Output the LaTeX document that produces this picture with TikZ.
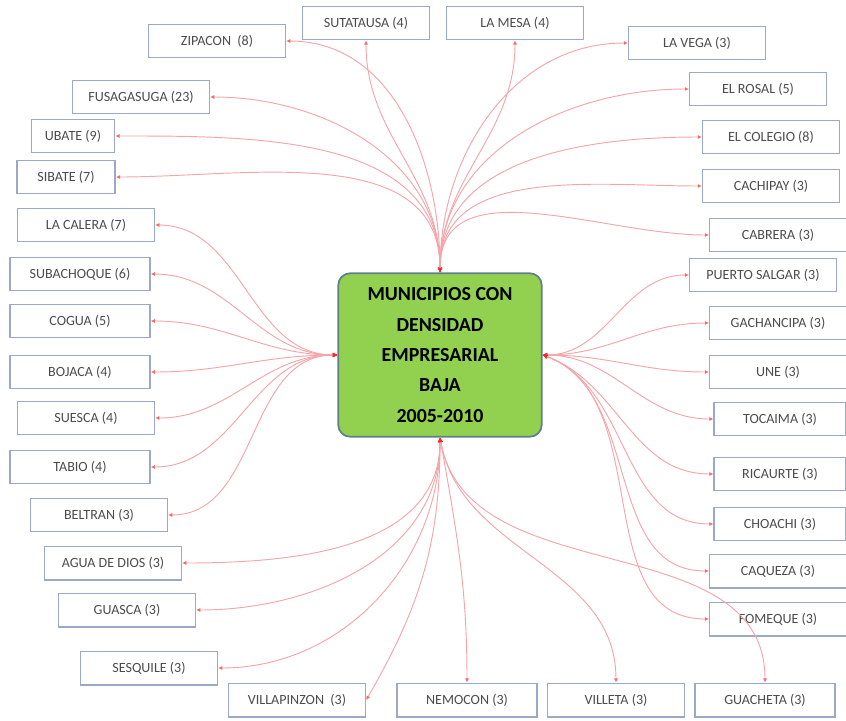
\documentclass[tikz,border=0pt]{standalone}
\usepackage{fontspec}
\setmainfont{Carlito}
\usetikzlibrary{arrows.meta}

\definecolor{hubgreen}{RGB}{146,208,80}
\definecolor{hubline}{RGB}{96,128,140}
\definecolor{boxline}{RGB}{155,168,198}
\definecolor{linkred}{RGB}{244,165,170}

\begin{document}
\begin{tikzpicture}[
        x=0.03cm, y=-0.03cm,
        hub/.style={draw=hubline, line width=1.5pt, fill=hubgreen, rounded corners=0.35cm,
            minimum width=6.1cm, minimum height=4.9cm, align=center,
            font=\fontsize{17}{26}\selectfont\bfseries},
        muni/.style={draw=boxline, line width=1.4pt, fill=white, minimum width=4.1cm,
            minimum height=1cm, inner sep=0pt, font=\fontsize{12}{14}\selectfont, text=black!70},
        link/.style={linkred, line width=0.8pt, {Latex[length=4pt,width=4pt,red!85]}-{Latex[length=3.5pt,width=3.5pt,red!60]}}
    ]

        \useasboundingbox (0,0) rectangle (846,720);

        \node[hub] (hub) at (440,355) {MUNICIPIOS CON\\DENSIDAD\\EMPRESARIAL\\BAJA\\2005-2010};

        % arriba
        \node[muni] (zipacon) at (217,41) {ZIPACON \ (8)};
        \node[muni, minimum width=3.8cm] (sutatausa) at (366,23) {SUTATAUSA (4)};
        \node[muni] (lamesa) at (515,23) {LA MESA (4)};
        \node[muni] (lavega) at (697,43) {LA VEGA (3)};
        \node[muni] (elrosal) at (758,89) {EL ROSAL (5)};
        \node[muni] (elcolegio) at (771,137) {EL COLEGIO (8)};
        \node[muni] (cachipay) at (771,186) {CACHIPAY (3)};
        \node[muni] (cabrera) at (778,235) {CABRERA (3)};
        \node[muni] (fusagasuga) at (141,97) {FUSAGASUGA (23)};
        \node[muni, minimum width=2.5cm] (ubate) at (73,136) {UBATE (9)};
        \node[muni, minimum width=2.95cm] (sibate) at (66,177) {SIBATE (7)};

        % derecha
        \node[muni, minimum width=4.4cm] (puertosalgar) at (763,275) {PUERTO SALGAR (3)};
        \node[muni] (gachancipa) at (778,323) {GACHANCIPA (3)};
        \node[muni] (une) at (778,372) {UNE (3)};
        \node[muni, minimum width=3.95cm] (tocaima) at (780,419) {TOCAIMA (3)};
        \node[muni, minimum width=3.95cm] (ricaurte) at (780,474) {RICAURTE (3)};
        \node[muni, minimum width=3.95cm] (choachi) at (780,524) {CHOACHI (3)};
        \node[muni] (caqueza) at (778,571) {CAQUEZA (3)};
        \node[muni] (fomeque) at (778,619) {FOMEQUE (3)};

        % abajo
        \node[muni, minimum width=4.2cm] (guacheta) at (765,700) {GUACHETA (3)};
        \node[muni] (villeta) at (616,700) {VILLETA (3)};
        \node[muni, minimum width=4.2cm] (nemocon) at (467,700) {NEMOCON (3)};
        \node[muni] (villapinzon) at (297,700) {VILLAPINZON \ (3)};

        % izquierda
        \node[muni] (lacalera) at (86,225) {LA CALERA (7)};
        \node[muni, minimum width=4.2cm] (subachoque) at (80,274) {SUBACHOQUE (6)};
        \node[muni, minimum width=4.2cm] (cogua) at (80,321) {COGUA (5)};
        \node[muni, minimum width=4.2cm] (bojaca) at (80,372) {BOJACA (4)};
        \node[muni] (suesca) at (86,418) {SUESCA (4)};
        \node[muni, minimum width=4.2cm] (tabio) at (80,467) {TABIO (4)};
        \node[muni] (beltran) at (99,515) {BELTRAN (3)};
        \node[muni] (aguadedios) at (113,563) {AGUA DE DIOS (3)};
        \node[muni] (guasca) at (127,610) {GUASCA (3)};
        \node[muni] (sesquile) at (149,668) {SESQUILE (3)};

        % conectores
        \foreach \m in {zipacon, fusagasuga, ubate, sibate}
            \draw[link] (hub.north) to[out=90, in=0] (\m.east);
        \foreach \m in {sutatausa, lamesa}
            \draw[link] (hub.north) to[out=90, in=-90] (\m.south);
        \foreach \m in {lavega, elrosal, elcolegio, cachipay, cabrera}
            \draw[link] (hub.north) to[out=90, in=180] (\m.west);

        \foreach \m in {lacalera, subachoque, cogua, bojaca, suesca, tabio, beltran}
            \draw[link] (hub.west) to[out=180, in=0] (\m.east);

        \foreach \m in {puertosalgar, gachancipa, une, tocaima}
            \draw[link] (hub.east) to[out=0, in=180] (\m.west);
        \foreach \m in {ricaurte, choachi, caqueza, fomeque}
            \draw[link] (hub.east) to[out=-20, in=180] (\m.west);

        \foreach \m in {aguadedios, guasca, sesquile}
            \draw[link] (hub.south) to[out=-90, in=0] (\m.east);
        \draw[link] (hub.south) to[out=-90, in=60] (villapinzon.east);
        \foreach \m in {nemocon, villeta, guacheta}
            \draw[link] (hub.south) to[out=-80, in=90] (\m.north);

    \end{tikzpicture}
\end{document}
